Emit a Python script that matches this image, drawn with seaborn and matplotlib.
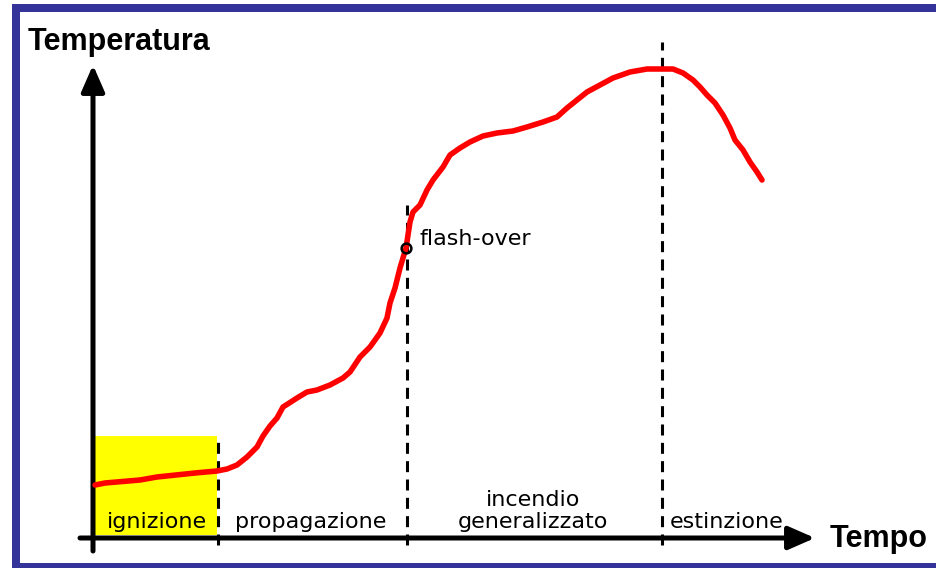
import matplotlib
matplotlib.use("Agg")
import matplotlib.pyplot as plt
from matplotlib.patches import Rectangle
import seaborn as sns
import pandas as pd

# temperature curve (arbitrary units: time t, temperature T)
time = [2, 12, 47, 64, 102, 124, 134, 144, 154, 164, 170, 177, 184, 190, 204, 214,
        224, 237, 250, 257, 267, 277, 287, 294, 297, 302, 307, 313, 317, 320, 327,
        334, 340, 350, 357, 367, 377, 390, 404, 420, 434, 450, 464, 474, 484, 494,
        507, 520, 537, 554, 580, 590, 600, 607, 614, 622, 630, 637, 642, 650, 657,
        664, 669]
temp = [53, 55, 58, 61, 65, 67, 69, 73, 81, 91, 102, 112, 120, 131, 140, 146,
        148, 153, 160, 166, 181, 191, 205, 220, 235, 250, 270, 290, 316, 326, 333,
        348, 358, 371, 383, 390, 396, 402, 405, 407, 411, 416, 421, 430, 438, 446,
        453, 460, 466, 469, 469, 465, 458, 451, 443, 435, 423, 410, 398, 388, 376,
        366, 358]

# phase boundaries and the height the dashed lines reach
phase_bounds = [125, 314, 569]
bound_tops = [102, 333, 496]

phase_labels = ["ignizione", "propagazione", "incendio\ngeneralizzato", "estinzione"]
phase_label_x = [64, 218, 440, 634]

flashover_t, flashover_T = 313, 290
ignition_box = (0, 3, 124, 99)   # t0, T0, width, height

sns.set_style("white")
plt.rcParams["font.family"] = ["DejaVu Sans"]
plt.rcParams["text.color"] = "black"

fig = plt.figure(figsize=(9.36, 5.68), dpi=100)
ax = fig.add_axes([0, 0, 1, 1])
ax.set_xlim(-93, 843)
ax.set_ylim(-30, 538)
ax.set_axis_off()

# yellow ignition area
ax.add_patch(Rectangle(ignition_box[:2], ignition_box[2], ignition_box[3],
                       facecolor="#FFFF00", edgecolor="none", zorder=1))

# axes with arrows
arrow = dict(arrowstyle="-|>,head_length=0.8,head_width=0.35", lw=3.6, color="black",
             mutation_scale=20, shrinkA=0, shrinkB=0)
ax.annotate("", xy=(722, 0), xytext=(-13, 0), arrowprops=arrow, zorder=3)
ax.annotate("", xy=(0, 473), xytext=(0, -13), arrowprops=arrow, zorder=3)

# dashed phase boundaries
for b, top in zip(phase_bounds, bound_tops):
    ax.plot([b, b], [-7, top], color="black", lw=2.2, linestyle=(0, (3.6, 2.4)), zorder=2)

df = pd.DataFrame({"Tempo": time, "Temperatura": temp})
sns.lineplot(data=df, x="Tempo", y="Temperatura", color="#FF0000", linewidth=4,
             ax=ax, zorder=4)
ax.set_axis_off()

ax.plot(flashover_t, flashover_T, marker="o", ms=7, mfc="none", mec="black", mew=1.8, zorder=5)
ax.text(327, 293, "flash-over", fontsize=16, color="black", ha="left", va="baseline")

for lab, x in zip(phase_labels, phase_label_x):
    ax.text(x, 6, lab, fontsize=16, color="black", ha="center", va="bottom",
            linespacing=1.15, zorder=5)

ax.text(-65, 488, "Temperatura", fontsize=22, fontweight="bold", color="black",
        family=["Liberation Sans", "DejaVu Sans"], ha="left", va="baseline")
ax.text(737, -9, "Tempo", fontsize=22, fontweight="bold", color="black",
        family=["Liberation Sans", "DejaVu Sans"], ha="left", va="baseline")

# blue frame (top, left, bottom)
W, H = 936, 568
frame = "#333399"
fig.patches.append(Rectangle((12 / W, 1 - 12 / H), 1 - 12 / W, 8 / H, transform=fig.transFigure,
                             facecolor=frame, edgecolor="none"))
fig.patches.append(Rectangle((12 / W, 0), 8 / W, 1 - 4 / H, transform=fig.transFigure,
                             facecolor=frame, edgecolor="none"))
fig.patches.append(Rectangle((12 / W, 0), 1 - 12 / W, 5 / H, transform=fig.transFigure,
                             facecolor=frame, edgecolor="none"))

fig.savefig("out.png", dpi=100)
